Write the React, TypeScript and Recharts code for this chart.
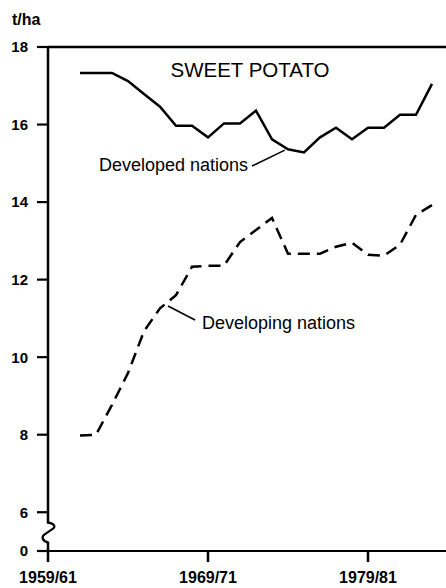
import React from 'react';
import { LineChart, Line, XAxis, YAxis, ReferenceLine, ReferenceDot } from 'recharts';

const years = [1962, 1963, 1964, 1965, 1966, 1967, 1968, 1969, 1970, 1971, 1972, 1973, 1974, 1975, 1976, 1977, 1978, 1979, 1980, 1981, 1982, 1983, 1984];
const developed = [17.33, 17.33, 17.33, 17.12, 16.79, 16.46, 15.97, 15.97, 15.67, 16.03, 16.03, 16.36, 15.62, 15.36, 15.28, 15.67, 15.92, 15.62, 15.92, 15.92, 16.25, 16.25, 17.05];
const developing = [7.98, 8.0, 8.77, 9.59, 10.67, 11.26, 11.6, 12.33, 12.36, 12.36, 12.97, 13.28, 13.59, 12.67, 12.67, 12.67, 12.85, 12.95, 12.64, 12.62, 12.9, 13.67, 13.92];

const xTickValues = [1960, 1970, 1980];
const xTickLabels = ['1959/61', '1969/71', '1979/81'];
const yTickValues = [5, 6, 8, 10, 12, 14, 16, 18];
const yTickLabels = ['0', '6', '8', '10', '12', '14', '16', '18'];

const title = 'SWEET POTATO';
const unitLabel = 't/ha';
const developedLabel = 'Developed nations';
const developingLabel = 'Developing nations';

const data = years.map((y, i) => ({ year: y, developed: developed[i], developing: developing[i] }));

const FONT = '"Liberation Sans", Arial, Helvetica, sans-serif';

const YTick = (props: any) => {
  const { x, y, payload } = props;
  const idx = yTickValues.indexOf(payload.value);
  return (
    <text x={x} y={y} dy="0.36em" textAnchor="end" fontFamily={FONT} fontSize={15} fontWeight="bold" fill="#000">
      {idx >= 0 ? yTickLabels[idx] : payload.value}
    </text>
  );
};

const XTick = (props: any) => {
  const { x, y, payload } = props;
  const idx = xTickValues.indexOf(payload.value);
  return (
    <text x={x} y={y} dy="0.71em" textAnchor="middle" fontFamily={FONT} fontSize={16} fontWeight="bold" fill="#000">
      {idx >= 0 ? xTickLabels[idx] : payload.value}
    </text>
  );
};

const textShape = (text: string, anchor: string, size: number, weight: string, dx = 0, dy = 0) => (p: any) => (
  <text x={p.cx + dx} y={p.cy + dy} dy="0.36em" textAnchor={anchor} fontFamily={FONT} fontSize={size} fontWeight={weight} fill="#000">
    {text}
  </text>
);

const breakShape = (p: any) => {
  const cx = p.cx;
  const cy = p.cy;
  return (
    <g>
      <rect x={cx - 3} y={cy - 8} width={6} height={18} fill="#fff" />
      <path
        d={`M ${cx} ${cy - 9} C ${cx + 6} ${cy - 8.5} ${cx + 8} ${cy - 5} ${cx + 5} ${cy - 3} L ${cx - 3} ${cy + 2.5} C ${cx - 7} ${cy + 5} ${cx - 6} ${cy + 9} ${cx} ${cy + 11}`}
        fill="none"
        stroke="#000"
        strokeWidth={2.2}
      />
    </g>
  );
};

export default function App() {
  return (
    <div style={{ position: 'absolute', left: 0, top: 0, background: '#fff' }}>
      <LineChart width={446} height={588} data={data} margin={{ top: 47, right: 0, left: 0, bottom: 0 }}>
        <XAxis
          dataKey="year"
          type="number"
          domain={[1960, 1984.875]}
          ticks={xTickValues}
          tick={<XTick />}
          tickSize={11}
          tickMargin={10}
          height={37}
          axisLine={{ stroke: '#000', strokeWidth: 2.2 }}
          tickLine={{ stroke: '#000', strokeWidth: 2.5 }}
          allowDataOverflow
        />
        <YAxis
          type="number"
          domain={[5, 18]}
          ticks={yTickValues}
          tick={<YTick />}
          tickSize={11}
          tickMargin={9}
          width={48}
          axisLine={{ stroke: '#000', strokeWidth: 2.5 }}
          tickLine={{ stroke: '#000', strokeWidth: 2.2 }}
          allowDataOverflow
        />
        <ReferenceLine y={18} stroke="#000" strokeWidth={2.5} />
        <Line
          dataKey="developed"
          stroke="#000"
          strokeWidth={2.5}
          dot={false}
          isAnimationActive={false}
          type="linear"
        />
        <Line
          dataKey="developing"
          stroke="#000"
          strokeWidth={2.5}
          strokeDasharray="12 7"
          dot={false}
          isAnimationActive={false}
          type="linear"
        />
        <ReferenceLine segment={[{ x: 1972.75, y: 14.93 }, { x: 1974.8, y: 15.34 }]} stroke="#000" strokeWidth={1.6} />
        <ReferenceLine segment={[{ x: 1967.5, y: 11.32 }, { x: 1969.19, y: 10.96 }]} stroke="#000" strokeWidth={1.6} />
        <ReferenceDot x={1972.625} y={17.42} r={0} ifOverflow="visible" shape={textShape(title, 'middle', 20.5, 'normal')} />
        <ReferenceDot x={1972.5} y={14.97} r={0} ifOverflow="visible" shape={textShape(developedLabel, 'end', 18, 'normal')} />
        <ReferenceDot x={1969.625} y={10.89} r={0} ifOverflow="visible" shape={textShape(developingLabel, 'start', 18, 'normal')} />
        <ReferenceDot x={1960} y={18} r={0} ifOverflow="visible" shape={textShape(unitLabel, 'start', 16, 'bold', -36, -28)} />
        <ReferenceDot x={1960} y={5.5} r={0} ifOverflow="visible" shape={breakShape} />
      </LineChart>
    </div>
  );
}
